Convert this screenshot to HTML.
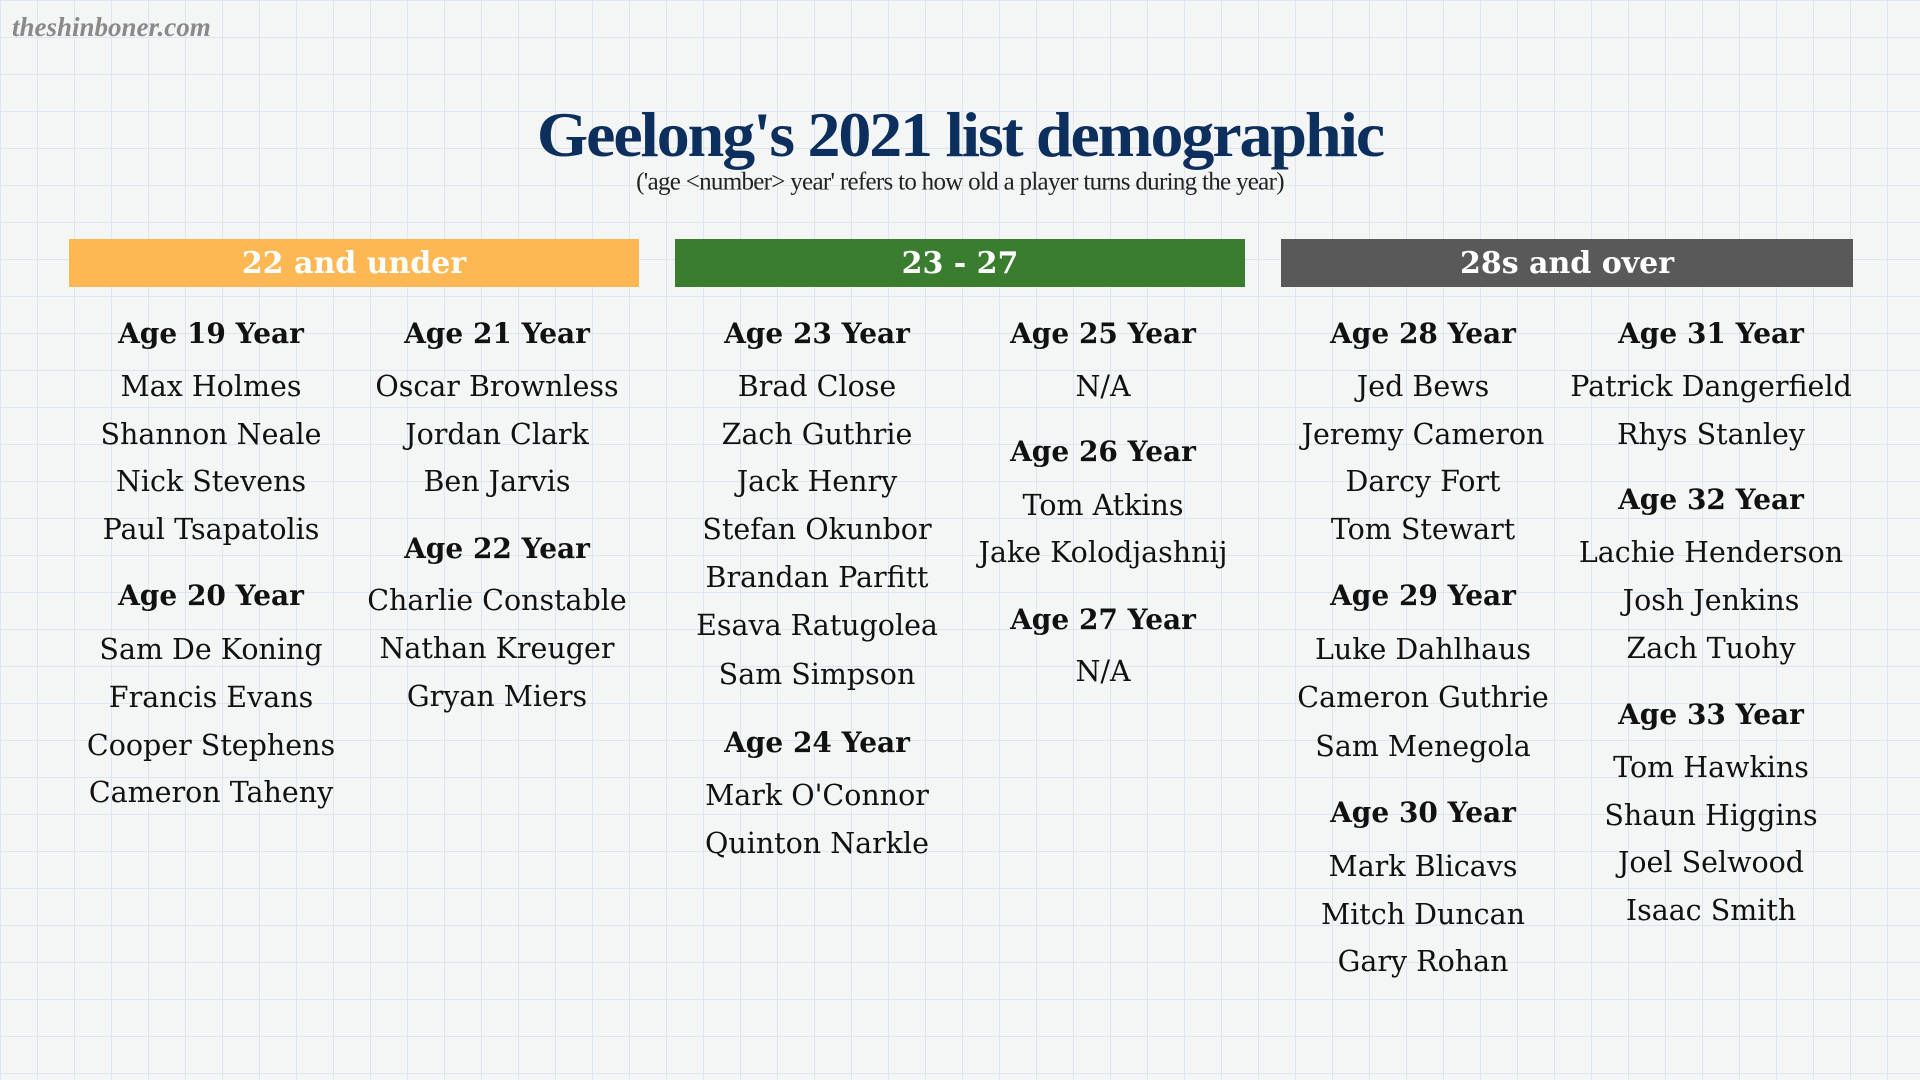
<!DOCTYPE html>
<html><head><meta charset="utf-8"><style>
html,body{margin:0;padding:0}
body{width:1920px;height:1080px;position:relative;overflow:hidden;
background-color:#f4f5f5;
background-image:linear-gradient(#dde6ec 1px,transparent 1px),linear-gradient(90deg,#dde6ec 1px,transparent 1px);
background-size:37px 37px;font-family:"DejaVu Serif",serif;color:#111}
.t{position:absolute;transform:translate(-50%,-50%);white-space:nowrap;font-size:28.5px;line-height:1}
.h{font-weight:bold;font-size:28px}
.bar{position:absolute;top:239px;height:48px;color:#fff;font-weight:bold;font-size:30px;display:flex;align-items:center;justify-content:center}
</style></head><body>
<div style="position:absolute;left:12px;top:12px;font-family:'Liberation Serif',serif;font-size:27px;font-style:italic;font-weight:bold;color:#8a8a8a">theshinboner.com</div>
<div class="t" style="left:960px;top:135px;font-family:'Liberation Serif',serif;font-size:64px;font-weight:bold;color:#0d2f5e;letter-spacing:-2px;transform:translate(-50%,-50%) scaleX(1.03)">Geelong's 2021 list demographic</div>
<div class="t" style="left:960px;top:182px;font-family:'Liberation Serif',serif;font-size:25px;color:#222;letter-spacing:-0.7px">('age &lt;number&gt; year' refers to how old a player turns during the year)</div>
<div class="bar" style="left:69px;width:570px;background:#fdb853">22 and under</div>
<div class="bar" style="left:675px;width:570px;background:#3a7d2e">23 - 27</div>
<div class="bar" style="left:1281px;width:572px;background:#595959">28s and over</div>

<div class="t h" style="left:211px;top:334px">Age 19 Year</div>
<div class="t" style="left:211px;top:387px">Max Holmes</div>
<div class="t" style="left:211px;top:435px">Shannon Neale</div>
<div class="t" style="left:211px;top:482px">Nick Stevens</div>
<div class="t" style="left:211px;top:530px">Paul Tsapatolis</div>
<div class="t h" style="left:211px;top:596px">Age 20 Year</div>
<div class="t" style="left:211px;top:650px">Sam De Koning</div>
<div class="t" style="left:211px;top:698px">Francis Evans</div>
<div class="t" style="left:211px;top:746px">Cooper Stephens</div>
<div class="t" style="left:211px;top:793px">Cameron Taheny</div>

<div class="t h" style="left:497px;top:334px">Age 21 Year</div>
<div class="t" style="left:497px;top:387px">Oscar Brownless</div>
<div class="t" style="left:497px;top:435px">Jordan Clark</div>
<div class="t" style="left:497px;top:482px">Ben Jarvis</div>
<div class="t h" style="left:497px;top:549px">Age 22 Year</div>
<div class="t" style="left:497px;top:601px">Charlie Constable</div>
<div class="t" style="left:497px;top:649px">Nathan Kreuger</div>
<div class="t" style="left:497px;top:697px">Gryan Miers</div>

<div class="t h" style="left:817px;top:334px">Age 23 Year</div>
<div class="t" style="left:817px;top:387px">Brad Close</div>
<div class="t" style="left:817px;top:435px">Zach Guthrie</div>
<div class="t" style="left:817px;top:482px">Jack Henry</div>
<div class="t" style="left:817px;top:530px">Stefan Okunbor</div>
<div class="t" style="left:817px;top:578px">Brandan Parfitt</div>
<div class="t" style="left:817px;top:626px">Esava Ratugolea</div>
<div class="t" style="left:817px;top:675px">Sam Simpson</div>
<div class="t h" style="left:817px;top:743px">Age 24 Year</div>
<div class="t" style="left:817px;top:796px">Mark O'Connor</div>
<div class="t" style="left:817px;top:844px">Quinton Narkle</div>

<div class="t h" style="left:1103px;top:334px">Age 25 Year</div>
<div class="t" style="left:1103px;top:387px">N/A</div>
<div class="t h" style="left:1103px;top:452px">Age 26 Year</div>
<div class="t" style="left:1103px;top:506px">Tom Atkins</div>
<div class="t" style="left:1103px;top:553px">Jake Kolodjashnij</div>
<div class="t h" style="left:1103px;top:620px">Age 27 Year</div>
<div class="t" style="left:1103px;top:672px">N/A</div>

<div class="t h" style="left:1423px;top:334px">Age 28 Year</div>
<div class="t" style="left:1423px;top:387px">Jed Bews</div>
<div class="t" style="left:1423px;top:435px">Jeremy Cameron</div>
<div class="t" style="left:1423px;top:482px">Darcy Fort</div>
<div class="t" style="left:1423px;top:530px">Tom Stewart</div>
<div class="t h" style="left:1423px;top:596px">Age 29 Year</div>
<div class="t" style="left:1423px;top:650px">Luke Dahlhaus</div>
<div class="t" style="left:1423px;top:698px">Cameron Guthrie</div>
<div class="t" style="left:1423px;top:747px">Sam Menegola</div>
<div class="t h" style="left:1423px;top:813px">Age 30 Year</div>
<div class="t" style="left:1423px;top:867px">Mark Blicavs</div>
<div class="t" style="left:1423px;top:915px">Mitch Duncan</div>
<div class="t" style="left:1423px;top:962px">Gary Rohan</div>

<div class="t h" style="left:1711px;top:334px">Age 31 Year</div>
<div class="t" style="left:1711px;top:387px">Patrick Dangerfield</div>
<div class="t" style="left:1711px;top:435px">Rhys Stanley</div>
<div class="t h" style="left:1711px;top:500px">Age 32 Year</div>
<div class="t" style="left:1711px;top:553px">Lachie Henderson</div>
<div class="t" style="left:1711px;top:601px">Josh Jenkins</div>
<div class="t" style="left:1711px;top:649px">Zach Tuohy</div>
<div class="t h" style="left:1711px;top:715px">Age 33 Year</div>
<div class="t" style="left:1711px;top:768px">Tom Hawkins</div>
<div class="t" style="left:1711px;top:816px">Shaun Higgins</div>
<div class="t" style="left:1711px;top:863px">Joel Selwood</div>
<div class="t" style="left:1711px;top:911px">Isaac Smith</div>
</body></html>
